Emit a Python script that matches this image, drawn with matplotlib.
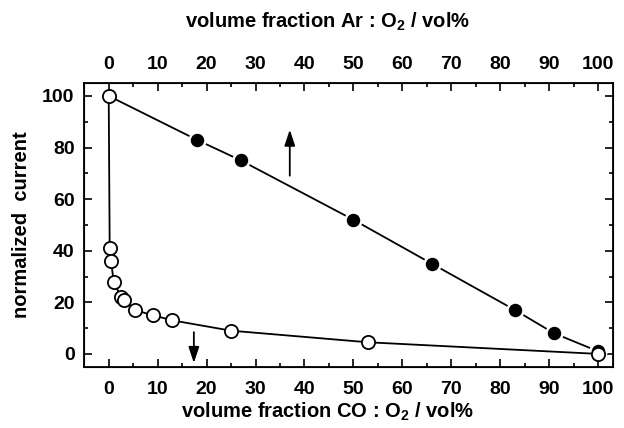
import matplotlib.pyplot as plt
from matplotlib.ticker import MultipleLocator

plt.rcParams['font.family'] = ['Liberation Sans', 'DejaVu Sans']
plt.rcParams['font.weight'] = 'bold'
plt.rcParams['mathtext.fontset'] = 'custom'
plt.rcParams['mathtext.bf'] = 'Liberation Sans:bold'
plt.rcParams['mathtext.rm'] = 'Liberation Sans:bold'

# CO : O2 (open circles, bottom axis)
co_x = [0, 0.2, 0.5, 1, 2.5, 3.2, 5.3, 9, 13, 25, 53, 100]
co_y = [100, 41, 36, 28, 22, 21, 17, 15, 13, 9, 4.5, 0]

# Ar : O2 (filled circles, top axis)
ar_x = [0, 18, 27, 50, 66, 83, 91, 100]
ar_y = [100, 83, 75, 52, 35, 17, 8, 1]

fig = plt.figure(figsize=(6.24, 4.28), dpi=100)
ax = fig.add_axes([0.135, 0.143, 0.847, 0.663])

# Ar line with gaps around the filled markers
ax.plot(ar_x, ar_y, color='black', lw=1.3, zorder=2)
ax.scatter(ar_x[1:], ar_y[1:], s=150, color='white', zorder=3)
ax.scatter(ar_x[1:], ar_y[1:], s=75, color='black', zorder=4)

ax.plot(co_x, co_y, color='black', lw=1.3, marker='o', ms=9.5,
        mfc='white', mec='black', mew=1.3, zorder=5)

# arrows
ax.annotate('', xy=(37, 88), xytext=(37, 68),
            arrowprops=dict(arrowstyle='-|>,head_length=0.6,head_width=0.2', color='black',
                            lw=1.3, mutation_scale=16))
ax.annotate('', xy=(17.4, -4.6), xytext=(17.4, 9.5),
            arrowprops=dict(arrowstyle='-|>,head_length=0.6,head_width=0.2', color='black',
                            lw=1.3, mutation_scale=16))

ax.set_xlim(-5, 103)
ax.set_ylim(-5, 105)
ax.xaxis.set_major_locator(MultipleLocator(10))
ax.xaxis.set_minor_locator(MultipleLocator(5))
ax.yaxis.set_major_locator(MultipleLocator(20))
ax.yaxis.set_minor_locator(MultipleLocator(10))
ax.tick_params(which='both', direction='in', top=False, right=True, width=1.2, labelsize=14)
ax.tick_params(which='major', length=6, pad=7)
ax.tick_params(axis='x', which='major', pad=10)
ax.tick_params(which='minor', length=3)
for s in ax.spines.values():
    s.set_linewidth(1.3)

ax.set_xlabel('volume fraction CO : O$_2$ / vol%', fontsize=14.5, fontweight='bold', labelpad=2)
ax.xaxis.set_label_coords(0.461, -0.12)
ax.set_ylabel('normalized  current', fontsize=14.5, fontweight='bold', labelpad=8)

top = ax.twiny()
top.set_xlim(ax.get_xlim())
top.xaxis.set_major_locator(MultipleLocator(10))
top.xaxis.set_minor_locator(MultipleLocator(5))
top.tick_params(which='both', direction='in', width=1.2, labelsize=14)
top.tick_params(which='major', length=6, pad=7)
top.tick_params(which='minor', length=3)
top.set_xlabel('volume fraction Ar : O$_2$ / vol%', fontsize=14.5, fontweight='bold')
top.xaxis.set_label_coords(0.461, 1.195)

for lab in ax.get_xticklabels() + ax.get_yticklabels() + top.get_xticklabels():
    lab.set_fontweight('bold')

fig.savefig('out.png', dpi=100)
